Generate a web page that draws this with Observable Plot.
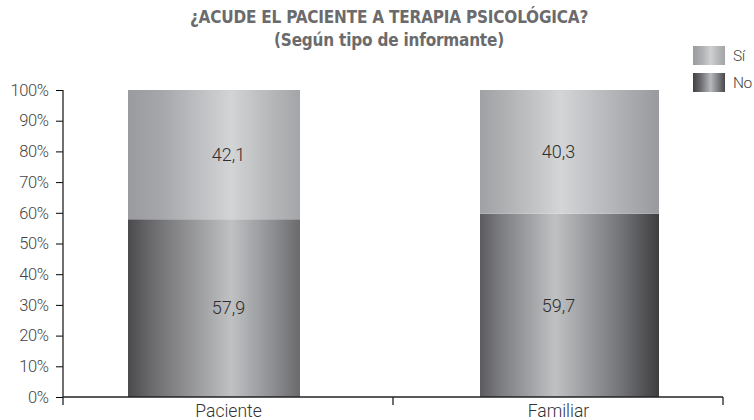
<!DOCTYPE html>
<html>
<head>
<meta charset="utf-8">
<script src="https://cdn.jsdelivr.net/npm/d3@7"></script>
<script src="https://cdn.jsdelivr.net/npm/@observablehq/plot@0.6"></script>
<style>
  html, body { margin: 0; padding: 0; background: #fff; }
  #wrap { position: relative; width: 754px; height: 420px; overflow: hidden; font-family: Roboto, sans-serif; font-weight: 300; }
  #title { position: absolute; left: 12px; top: 6px; width: 754px; text-align: center; color: #6b6b6d; font-family: "DejaVu Sans", sans-serif; font-stretch: condensed; font-weight: bold; font-size: 17px; line-height: 23px; letter-spacing: -0.2px; }
  #chart { position: absolute; left: 0; top: 50px; }
  #legend { position: absolute; left: 693px; top: 46px; color: #444; font-size: 15.5px; letter-spacing: -0.5px; }
  .row { display: flex; align-items: center; height: 19px; margin-bottom: 8px; }
  .sw { width: 32px; height: 19px; margin-right: 8px; }
  svg { font-family: Roboto, sans-serif; font-weight: 300; }
  g[aria-label^="x-axis"] text { font-size: 17.5px; fill: #333; }
  g[aria-label^="y-axis"] text { font-size: 16.5px; fill: #444; letter-spacing: -0.4px; }
</style>
</head>
<body>
<div id="wrap">
  <div id="title">¿ACUDE EL PACIENTE A TERAPIA PSICOLÓGICA?<br>(Según tipo de informante)</div>
  <div id="chart"></div>
  <div id="legend"></div>
</div>
<script>
const categories = ["Paciente", "Familiar"];
const seriesNames = ["No", "Sí"];
const noValues = [57.9, 59.7];
const siValues = [42.1, 40.3];
const yTicks = [0, 10, 20, 30, 40, 50, 60, 70, 80, 90, 100];

const data = [];
categories.forEach((c, i) => {
  data.push({cat: c, serie: "No", value: noValues[i]});
  data.push({cat: c, serie: "Sí", value: siValues[i]});
});

// gradient stops (style)
const grads = {
  "Paciente-No": [[0, "#4a4a4c"], [0.12, "#67676a"], [0.6, "#c0c1c3"], [0.85, "#8c8d90"], [1, "#6a6a6d"]],
  "Paciente-Sí": [[0, "#9a9b9e"], [0.2, "#a6a7aa"], [0.6, "#d3d4d6"], [0.85, "#b4b5b7"], [1, "#a4a5a8"]],
  "Familiar-No": [[0, "#5c5c5f"], [0.12, "#7d7e81"], [0.42, "#c0c1c3"], [0.8, "#707174"], [1, "#3e3e40"]],
  "Familiar-Sí": [[0, "#a0a1a4"], [0.15, "#b0b1b3"], [0.45, "#d4d5d7"], [0.85, "#a8a9ac"], [1, "#999a9d"]]
};
const idOf = k => "grad-" + k.replace("í", "i");

const W = 754, H = 370, mL = 63, mR = 31, mT = 40, mB = 23;
const fmt = v => v.toFixed(1).replace(".", ",");

const defsMark = () => {
  const defs = d3.create("svg:defs");
  for (const [k, stops] of Object.entries(grads)) {
    const g = defs.append("linearGradient").attr("id", idOf(k)).attr("x1", 0).attr("x2", 1).attr("y1", 0).attr("y2", 0);
    stops.forEach(([o, c]) => g.append("stop").attr("offset", o).attr("stop-color", c));
  }
  return defs.node();
};

const axesMark = (index, scales, values, dims) => {
  const g = d3.create("svg:g").attr("stroke", "#222").attr("stroke-width", 1.3);
  const band = d3.scaleBand().domain(categories).range([dims.marginLeft, dims.width - dims.marginRight]);
  const y0 = scales.y(0), y1 = scales.y(100);
  g.append("line").attr("x1", band.range()[0]).attr("x2", band.range()[0]).attr("y1", y1).attr("y2", y0 + 8);
  g.append("line").attr("x1", band.range()[0]).attr("x2", band.range()[1]).attr("y1", y0).attr("y2", y0);
  const bounds = categories.map(c => band(c)).concat([band.range()[1]]);
  bounds.slice(1).forEach(x => g.append("line").attr("x1", x).attr("x2", x).attr("y1", y0).attr("y2", y0 + 8));
  return g.node();
};

const insets = {Paciente: [65, 93], Familiar: [87, 64]};

const plot = Plot.plot({
  width: W, height: H,
  marginLeft: mL, marginRight: mR, marginTop: mT, marginBottom: mB,
  x: {domain: categories, padding: 0, tickSize: 0, tickPadding: 7, label: null},
  y: {domain: [0, 100], ticks: yTicks, tickFormat: d => d + "%", tickSize: 7, tickPadding: 8, label: null},
  marks: [
    defsMark,
    ...categories.map(c => Plot.barY(data.filter(d => d.cat === c), {
      x: "cat", y: "value",
      fill: d => `url(#${idOf(d.cat + "-" + d.serie)})`,
      insetLeft: insets[c][0], insetRight: insets[c][1]
    })),
    axesMark,
    Plot.text(data, Plot.stackY({x: "cat", y: "value", text: d => fmt(d.value), fontSize: 18, fill: "#2e2e2e"}))
  ]
});
document.getElementById("chart").appendChild(plot);

// legend
const leg = document.getElementById("legend");
const legGrads = {
  "Sí": "linear-gradient(to right, #9a9b9e 0%, #b0b1b3 30%, #cfd0d2 55%, #b9babc 75%, #a3a4a7 100%)",
  "No": "linear-gradient(to right, #404042 0%, #6d6e71 25%, #b8b9bb 55%, #7a7b7e 80%, #48484a 100%)"
};
["Sí", "No"].forEach(s => {
  const r = document.createElement("div"); r.className = "row";
  const sw = document.createElement("div"); sw.className = "sw"; sw.style.background = legGrads[s];
  const t = document.createElement("span"); t.textContent = s;
  r.appendChild(sw); r.appendChild(t); leg.appendChild(r);
});
</script>
</body>
</html>
